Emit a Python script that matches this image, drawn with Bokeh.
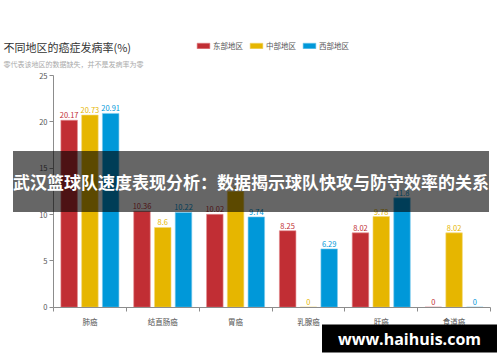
from bokeh.plotting import figure
from bokeh.models import ColumnDataSource, LabelSet, Label, FixedTicker, Legend, LegendItem, Range1d
from bokeh.core.properties import value
from bokeh.embed import file_html
from bokeh.resources import INLINE

categories = ["肺癌", "结直肠癌", "胃癌", "乳腺癌", "肝癌", "食道癌"]
series_names = ["东部地区", "中部地区", "西部地区"]
east = [20.17, 10.36, 10.02, 8.25, 8.02, 0]
central = [20.73, 8.6, 12.5, 0, 9.78, 8.02]
west = [20.91, 10.22, 9.74, 6.29, 11.8, 0]
y_ticks = [0, 5, 10, 15, 20, 25]
y_max = 25

title_text = "不同地区的癌症发病率(%)"
subtitle_text = "零代表该地区的数据缺失，并不是发病率为零"
banner_text = "武汉篮球队速度表现分析：数据揭示球队快攻与防守效率的关系"
watermark_text = "www.haihuis.com"

colors = ["#c12e34", "#e6b600", "#0098d9"]
edge_colors = ["#e58a8e", "#f3d97a", "#7fcbec"]
offsets = [-0.285, 0.0, 0.285]
bar_width = 0.227
FONT = "Noto Sans CJK SC"
AXIS_COLOR = "#8c8c8c"

# canvas geometry (pixels inside the canvas; y measured from the bottom)
W, H = 500, 362
axis_left_px, axis_right_px = 53, 490
axis_bottom_px, axis_top_px = 55.3, 287
n = len(categories)
xppu = (axis_right_px - axis_left_px) / n
yppu = (axis_top_px - axis_bottom_px) / y_max

p = figure(width=W, height=H, output_backend="svg", toolbar_location=None,
           x_range=Range1d(-axis_left_px / xppu, n + (W - axis_right_px) / xppu),
           y_range=Range1d(-axis_bottom_px / yppu, y_max + (H - axis_top_px) / yppu),
           min_border=0, min_border_left=0, min_border_right=0,
           min_border_top=0, min_border_bottom=0)
p.outline_line_color = None
p.xgrid.visible = False
p.ygrid.visible = False
p.background_fill_color = "white"
p.border_fill_color = "white"

renderers = []
for k, vals in enumerate([east, central, west]):
    xs = [i + 0.5 + offsets[k] for i in range(n)]
    src = ColumnDataSource(dict(x=xs, top=vals, label=[f"{v:g}" for v in vals]))
    r = p.vbar(x="x", top="top", bottom=0, width=bar_width, source=src, fill_color=colors[k],
               line_color=edge_colors[k], line_width=1, line_alpha=0.6)
    renderers.append(r)
    p.add_layout(LabelSet(x="x", y="top", text="label", source=src, y_offset=2,
                          text_align="center", text_baseline="bottom",
                          text_color=colors[k], text_font_size="7.5px", text_font=value(FONT)))

centers = [i + 0.5 for i in range(n)]
bounds = list(range(n + 1))
p.xaxis.fixed_location = 0
p.xaxis.bounds = (0, n)
p.xaxis.ticker = FixedTicker(ticks=centers, minor_ticks=bounds)
p.xaxis.major_label_overrides = {c: name for c, name in zip(centers, categories)}
p.xaxis.major_tick_line_color = None
p.xaxis.minor_tick_line_color = AXIS_COLOR
p.xaxis.minor_tick_out = 4
p.xaxis.minor_tick_in = 0
p.xaxis.axis_line_color = AXIS_COLOR
p.xaxis.major_label_text_font = FONT
p.xaxis.major_label_text_font_size = "7.5px"
p.xaxis.major_label_text_color = "#555555"
p.xaxis.major_label_standoff = 3

p.yaxis.fixed_location = 0
p.yaxis.bounds = (0, y_max)
p.yaxis.ticker = FixedTicker(ticks=y_ticks)
p.yaxis.minor_tick_line_color = None
p.yaxis.major_tick_line_color = AXIS_COLOR
p.yaxis.major_tick_out = 4
p.yaxis.major_tick_in = 0
p.yaxis.axis_line_color = AXIS_COLOR
p.yaxis.major_label_text_font = FONT
p.yaxis.major_label_text_font_size = "7.5px"
p.yaxis.major_label_text_color = "#555555"
p.yaxis.major_label_standoff = 2

legend = Legend(items=[LegendItem(label=nm, renderers=[r]) for nm, r in zip(series_names, renderers)],
                orientation="horizontal", location=(195, 311.5), glyph_width=16, glyph_height=7,
                label_text_font_size="7.5px", label_text_font=FONT, label_text_color="#555555",
                label_standoff=2, spacing=5, padding=0, margin=0, label_height=7,
                border_line_color=None, background_fill_alpha=0)
p.add_layout(legend)

p.add_layout(Label(x=3, y=315.3, x_units="screen", y_units="screen", text=title_text,
                   text_font=FONT, text_font_size="11px", text_color="#333333",
                   text_baseline="middle", text_align="left"))
p.add_layout(Label(x=3, y=298.7, x_units="screen", y_units="screen", text=subtitle_text,
                   text_font=FONT, text_font_size="7px", text_color="#aaaaaa",
                   text_baseline="middle", text_align="left"))

p.add_layout(Label(x=250.5, y=181, x_units="screen", y_units="screen", text=banner_text,
                   text_font=FONT, text_font_size="17px", text_font_style="bold",
                   text_color="white", text_align="center", text_baseline="middle",
                   background_fill_color="black", background_fill_alpha=0.6,
                   padding=dict(left=0, right=0, top=18, bottom=18)))

p.add_layout(Label(x=409, y=25.5, x_units="screen", y_units="screen", text=watermark_text,
                   text_font="Open Sans", text_font_size="16px", text_font_style="bold",
                   text_alpha=0, text_align="center", text_baseline="middle",
                   background_fill_color="#555555",
                   padding=dict(left=16, right=16, top=6, bottom=3)))
p.add_layout(Label(x=409, y=24, x_units="screen", y_units="screen", text=watermark_text,
                   text_font="Open Sans", text_font_size="16px", text_font_style="bold",
                   text_color="white", text_align="center", text_baseline="middle",
                   background_fill_color="black",
                   padding=dict(left=16, right=16, top=3, bottom=3)))

open("out.html", "w").write(file_html(p, INLINE))
